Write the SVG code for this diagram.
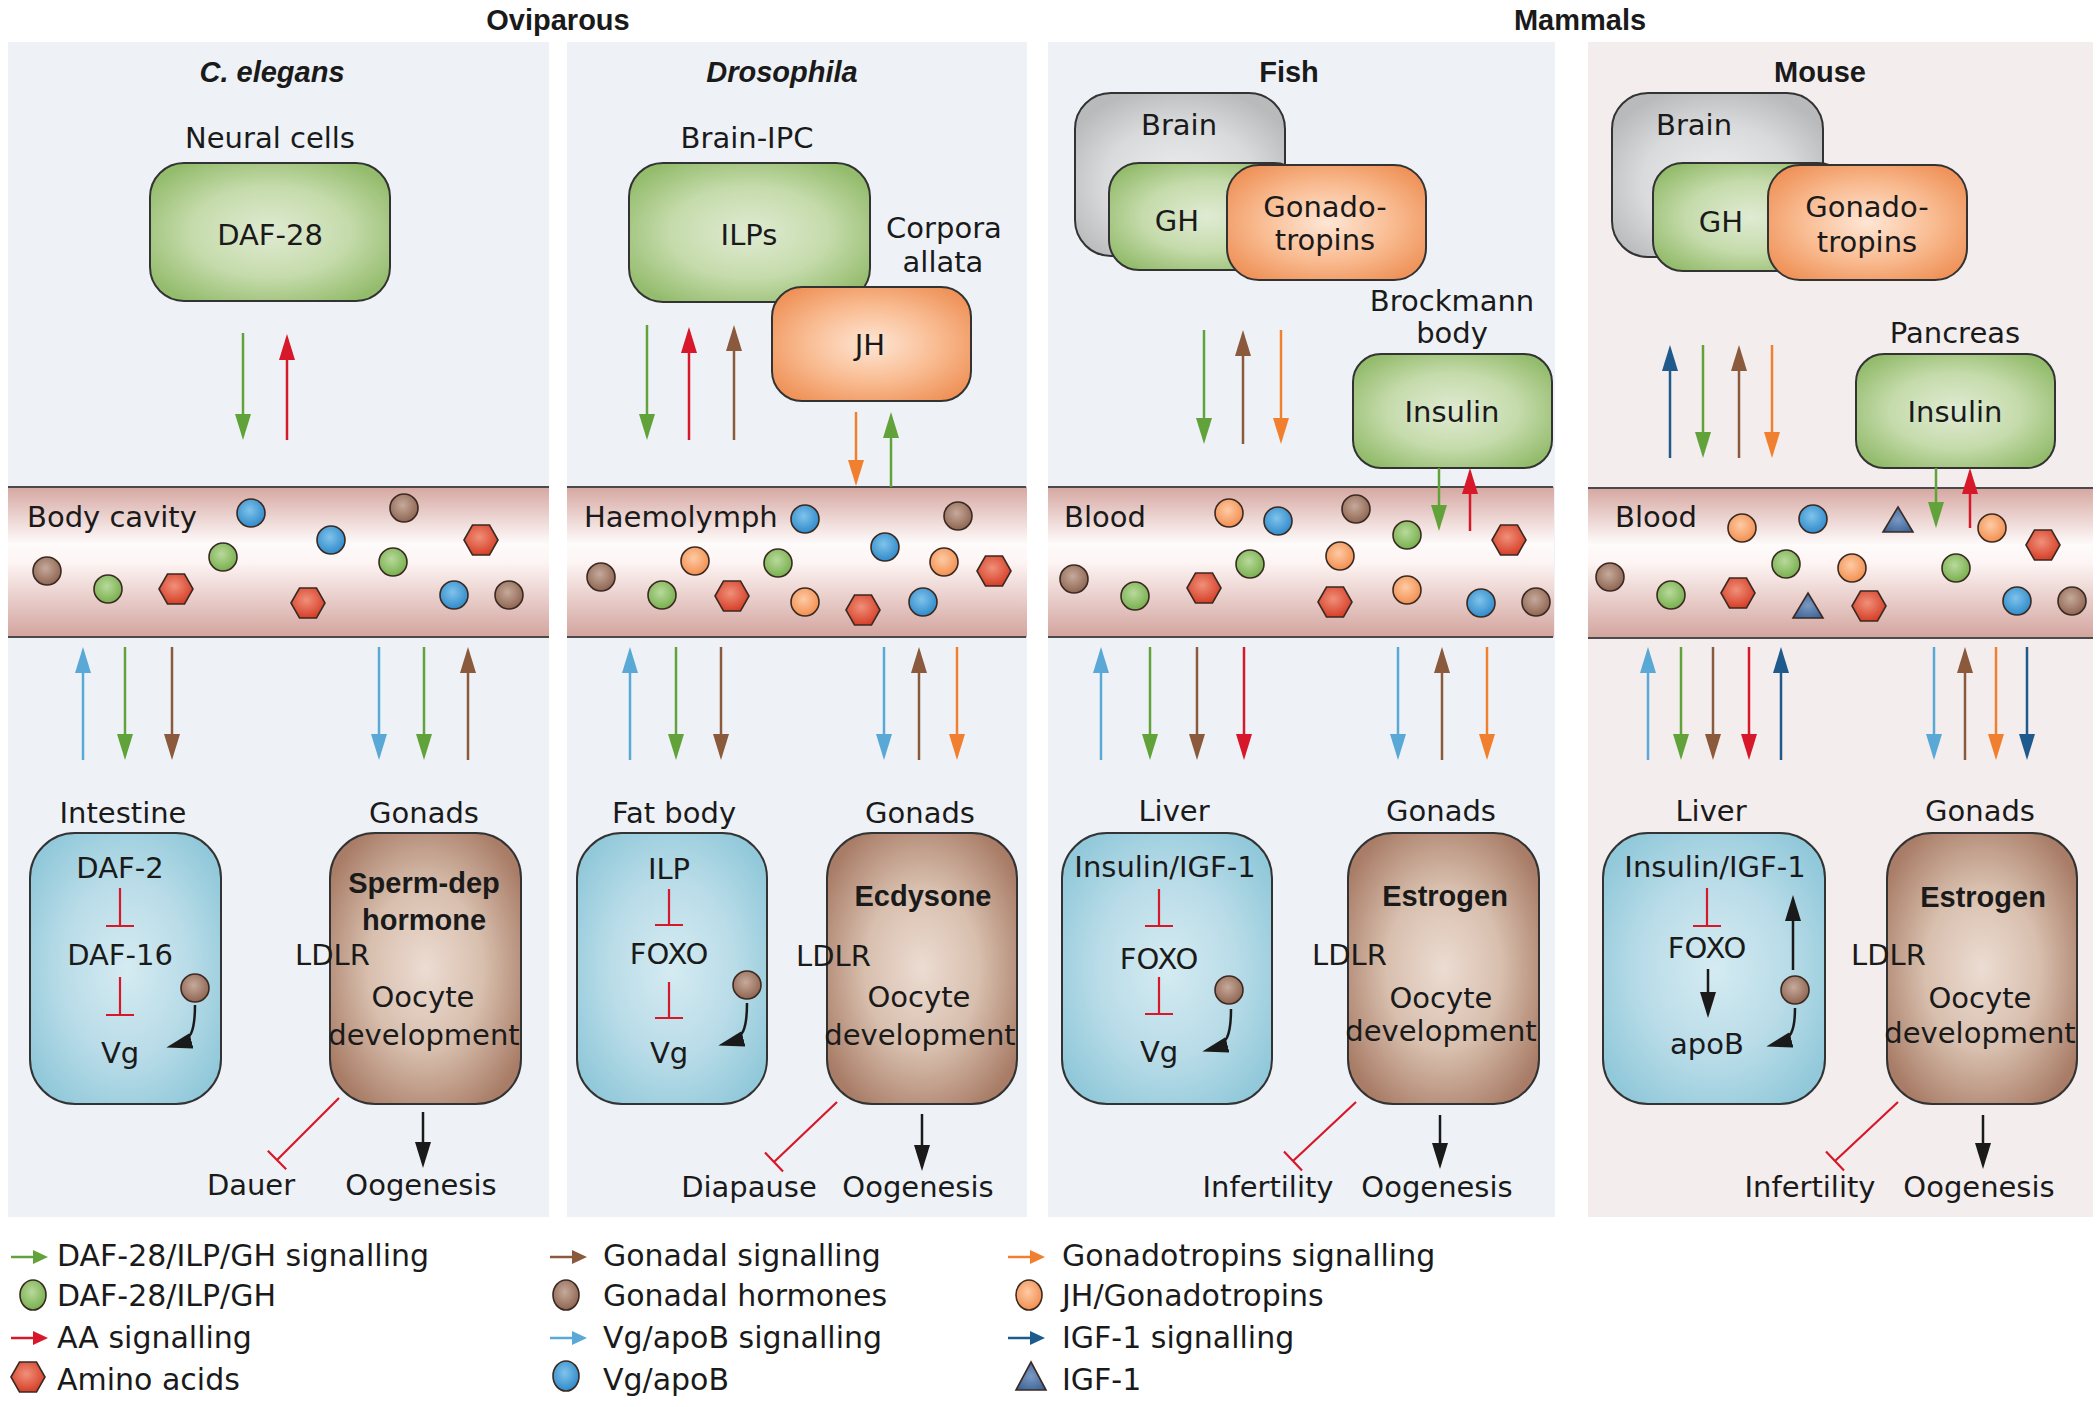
<svg xmlns="http://www.w3.org/2000/svg" width="2100" height="1407" viewBox="0 0 2100 1407">
<defs>
<style>
text{font-family:"DejaVu Sans","Liberation Sans",sans-serif;font-size:29px;fill:#1a1a1a}
.t{text-anchor:middle}
.b{font-family:"Liberation Sans",Arial,sans-serif;font-weight:bold;font-size:29px}
.h{font-family:"Liberation Sans",Arial,sans-serif;font-weight:bold;font-size:29px;text-anchor:middle}
.hi{font-style:italic}
.lg{font-size:30px}
.pnl{fill:#eef2f6}
.pnlm{fill:#f3eded}
.box{stroke:#333;stroke-width:2}
.bg{fill:url(#gGreen)}
.bo{fill:url(#gOrange)}
.bgy{fill:url(#gGrey)}
.bb{fill:url(#gBlue)}
.bbr{fill:url(#gBrown)}
.band{fill:url(#gBand)}
.bl{stroke:#4a4a4a;stroke-width:2}
.a{stroke-width:2.5;fill:none}
.gr{stroke:#62a23a;marker-end:url(#mGr)}
.rd{stroke:#d7182a;marker-end:url(#mRd)}
.br{stroke:#8b5a3c;marker-end:url(#mBr)}
.lb{stroke:#5aa8d6;marker-end:url(#mLb)}
.or{stroke:#f08030;marker-end:url(#mOr)}
.db{stroke:#1f5a8c;marker-end:url(#mDb)}
.bk{stroke:#1a1a1a;marker-end:url(#mBk)}
.inh{stroke:#d7182a;stroke-width:2.2;fill:none}
.p{stroke:#3a2a22;stroke-width:1.6}
.pg{fill:url(#pG)}
.pb{fill:url(#pB)}
.pbr{fill:url(#pBr)}
.po{fill:url(#pO)}
.ph{fill:url(#pH)}
.pt{fill:url(#pT)}
</style>
<linearGradient id="gBand" x1="0" y1="0" x2="0" y2="1">
<stop offset="0" stop-color="#d6a7a1"/>
<stop offset="0.38" stop-color="#fefbfb"/>
<stop offset="0.5" stop-color="#fdf5f4"/>
<stop offset="1" stop-color="#d3a49e"/>
</linearGradient>
<radialGradient id="gGreen" cx="0.5" cy="0.5" r="0.6">
<stop offset="0" stop-color="#e0ebd3"/><stop offset="0.55" stop-color="#c5dbab"/><stop offset="1" stop-color="#94bc6d"/>
</radialGradient>
<radialGradient id="gOrange" cx="0.5" cy="0.5" r="0.6">
<stop offset="0" stop-color="#fee6d5"/><stop offset="0.55" stop-color="#f9bc92"/><stop offset="1" stop-color="#ef935a"/>
</radialGradient>
<radialGradient id="gGrey" cx="0.5" cy="0.55" r="0.6">
<stop offset="0" stop-color="#eeeeef"/><stop offset="0.6" stop-color="#d9dadb"/><stop offset="1" stop-color="#b8babc"/>
</radialGradient>
<radialGradient id="gBlue" cx="0.5" cy="0.5" r="0.6">
<stop offset="0" stop-color="#d5ebf2"/><stop offset="0.55" stop-color="#b9dce8"/><stop offset="1" stop-color="#92c9da"/>
</radialGradient>
<radialGradient id="gBrown" cx="0.5" cy="0.5" r="0.6">
<stop offset="0" stop-color="#ecdcd2"/><stop offset="0.5" stop-color="#d8bfae"/><stop offset="1" stop-color="#a87c66"/>
</radialGradient>
<radialGradient id="pG" cx="0.45" cy="0.4" r="0.6"><stop offset="0" stop-color="#b8d99b"/><stop offset="1" stop-color="#78b04e"/></radialGradient>
<radialGradient id="pB" cx="0.45" cy="0.4" r="0.6"><stop offset="0" stop-color="#80c3eb"/><stop offset="1" stop-color="#308bcb"/></radialGradient>
<radialGradient id="pBr" cx="0.45" cy="0.4" r="0.6"><stop offset="0" stop-color="#c6aa9b"/><stop offset="1" stop-color="#8f6552"/></radialGradient>
<radialGradient id="pO" cx="0.45" cy="0.4" r="0.6"><stop offset="0" stop-color="#fdcba5"/><stop offset="1" stop-color="#f38f50"/></radialGradient>
<radialGradient id="pH" cx="0.45" cy="0.4" r="0.6"><stop offset="0" stop-color="#f0907a"/><stop offset="1" stop-color="#d63f28"/></radialGradient>
<radialGradient id="pT" cx="0.5" cy="0.5" r="0.6"><stop offset="0" stop-color="#7a99c4"/><stop offset="1" stop-color="#3d6396"/></radialGradient>
<polygon id="hex" points="-17,0 -8.5,-15 8.5,-15 17,0 8.5,15 -8.5,15"/>
<polygon id="tri" points="0,-13 15,12 -15,12"/>
<marker id="mGr" markerUnits="userSpaceOnUse" markerWidth="26" markerHeight="16" viewBox="0 0 26 16" refX="16" refY="8" orient="auto"><path d="M0,0 L26,8 L0,16 z" fill="#62a23a"/></marker>
<marker id="mRd" markerUnits="userSpaceOnUse" markerWidth="26" markerHeight="16" viewBox="0 0 26 16" refX="16" refY="8" orient="auto"><path d="M0,0 L26,8 L0,16 z" fill="#d7182a"/></marker>
<marker id="mBr" markerUnits="userSpaceOnUse" markerWidth="26" markerHeight="16" viewBox="0 0 26 16" refX="16" refY="8" orient="auto"><path d="M0,0 L26,8 L0,16 z" fill="#8b5a3c"/></marker>
<marker id="mLb" markerUnits="userSpaceOnUse" markerWidth="26" markerHeight="16" viewBox="0 0 26 16" refX="16" refY="8" orient="auto"><path d="M0,0 L26,8 L0,16 z" fill="#5aa8d6"/></marker>
<marker id="mOr" markerUnits="userSpaceOnUse" markerWidth="26" markerHeight="16" viewBox="0 0 26 16" refX="16" refY="8" orient="auto"><path d="M0,0 L26,8 L0,16 z" fill="#f08030"/></marker>
<marker id="mDb" markerUnits="userSpaceOnUse" markerWidth="26" markerHeight="16" viewBox="0 0 26 16" refX="16" refY="8" orient="auto"><path d="M0,0 L26,8 L0,16 z" fill="#1f5a8c"/></marker>
<marker id="mBk" markerUnits="userSpaceOnUse" markerWidth="26" markerHeight="16" viewBox="0 0 26 16" refX="16" refY="8" orient="auto"><path d="M0,0 L26,8 L0,16 z" fill="#1a1a1a"/></marker>
</defs>

<rect width="2100" height="1407" fill="#ffffff"/>

<!-- titles -->
<text class="h" x="558" y="30">Oviparous</text>
<text class="h" x="1580" y="30">Mammals</text>

<!-- panels -->
<g id="panel-celegans">
<rect class="pnl" x="8" y="42" width="541" height="1175"/>
<text class="h hi" x="272" y="82">C. elegans</text>
</g>
<g id="panel-drosophila">
<rect class="pnl" x="567" y="42" width="460" height="1175"/>
<text class="h hi" x="782" y="82">Drosophila</text>
</g>
<g id="panel-fish">
<rect class="pnl" x="1048" y="42" width="507" height="1175"/>
<text class="h" x="1289" y="82">Fish</text>
</g>
<g id="panel-mouse">
<rect class="pnlm" x="1588" y="42" width="505" height="1175"/>
<text class="h" x="1820" y="82">Mouse</text>
</g>

<!-- bands -->
<g id="body-cavity">
<rect class="band" x="8" y="487" width="541" height="150"/>
<path class="bl" d="M8,487H549M8,637H549"/>
<text x="27" y="527">Body cavity</text>
</g>
<g id="haemolymph">
<rect class="band" x="567" y="487" width="460" height="150"/>
<path class="bl" d="M567,487H1026M567,637H1026"/>
<text x="584" y="527">Haemolymph</text>
</g>
<g id="blood-fish">
<rect class="band" x="1048" y="487" width="506" height="150"/>
<path class="bl" d="M1048,487H1553M1048,637H1553"/>
<text x="1064" y="527">Blood</text>
</g>
<g id="blood-mouse">
<rect class="band" x="1588" y="488" width="505" height="150"/>
<path class="bl" d="M1588,488H2093M1588,638H2093"/>
<text x="1615" y="527">Blood</text>
</g>

<!-- particles -->
<g id="particles">
<circle class="p pb" cx="251" cy="513" r="14"/>
<circle class="p pbr" cx="404" cy="508" r="14"/>
<circle class="p pb" cx="331" cy="540" r="14"/>
<circle class="p pg" cx="223" cy="557" r="14"/>
<circle class="p pbr" cx="47" cy="571" r="14"/>
<circle class="p pg" cx="108" cy="589" r="14"/>
<use href="#hex" class="p ph" x="176" y="589"/>
<use href="#hex" class="p ph" x="308" y="603"/>
<circle class="p pg" cx="393" cy="562" r="14"/>
<use href="#hex" class="p ph" x="481" y="540"/>
<circle class="p pb" cx="454" cy="595" r="14"/>
<circle class="p pbr" cx="509" cy="595" r="14"/>

<circle class="p pb" cx="805" cy="519" r="14"/>
<circle class="p pbr" cx="958" cy="516" r="14"/>
<circle class="p pb" cx="885" cy="547" r="14"/>
<circle class="p po" cx="695" cy="561" r="14"/>
<circle class="p pg" cx="778" cy="563" r="14"/>
<circle class="p po" cx="944" cy="562" r="14"/>
<use href="#hex" class="p ph" x="994" y="571"/>
<circle class="p pbr" cx="601" cy="577" r="14"/>
<circle class="p pg" cx="662" cy="595" r="14"/>
<use href="#hex" class="p ph" x="732" y="596"/>
<circle class="p po" cx="805" cy="602" r="14"/>
<use href="#hex" class="p ph" x="863" y="610"/>
<circle class="p pb" cx="923" cy="602" r="14"/>

<circle class="p po" cx="1229" cy="513" r="14"/>
<circle class="p pb" cx="1278" cy="521" r="14"/>
<circle class="p pbr" cx="1356" cy="509" r="14"/>
<circle class="p pg" cx="1407" cy="535" r="14"/>
<use href="#hex" class="p ph" x="1509" y="540"/>
<circle class="p pg" cx="1250" cy="564" r="14"/>
<circle class="p po" cx="1340" cy="556" r="14"/>
<circle class="p pbr" cx="1074" cy="579" r="14"/>
<circle class="p pg" cx="1135" cy="596" r="14"/>
<use href="#hex" class="p ph" x="1204" y="588"/>
<use href="#hex" class="p ph" x="1335" y="602"/>
<circle class="p po" cx="1407" cy="590" r="14"/>
<circle class="p pb" cx="1481" cy="603" r="14"/>
<circle class="p pbr" cx="1536" cy="602" r="14"/>

<circle class="p po" cx="1742" cy="528" r="14"/>
<circle class="p pb" cx="1813" cy="519" r="14"/>
<use href="#tri" class="p pt" x="1898" y="520"/>
<circle class="p po" cx="1992" cy="528" r="14"/>
<use href="#hex" class="p ph" x="2043" y="545"/>
<circle class="p pg" cx="1786" cy="564" r="14"/>
<circle class="p po" cx="1852" cy="568" r="14"/>
<circle class="p pg" cx="1956" cy="568" r="14"/>
<circle class="p pbr" cx="1610" cy="577" r="14"/>
<circle class="p pg" cx="1671" cy="595" r="14"/>
<use href="#hex" class="p ph" x="1738" y="593"/>
<use href="#tri" class="p pt" x="1808" y="606"/>
<use href="#hex" class="p ph" x="1869" y="606"/>
<circle class="p pb" cx="2017" cy="601" r="14"/>
<circle class="p pbr" cx="2072" cy="601" r="14"/>
</g>

<!-- C. elegans nodes -->
<g id="neural-cells">
<text class="t" x="270" y="148">Neural cells</text>
<rect class="box bg" x="150" y="163" width="240" height="138" rx="34"/>
<text class="t" x="270" y="245">DAF-28</text>
</g>
<g id="intestine">
<text class="t" x="123" y="823">Intestine</text>
<rect class="box bb" x="30" y="833" width="191" height="271" rx="45"/>
<text class="t" x="120" y="878">DAF-2</text>
<text class="t" x="120" y="965">DAF-16</text>
<text class="t" x="120" y="1063">Vg</text>
<circle class="p pbr" cx="195" cy="988" r="14"/>
</g>
<g id="gonads-celegans">
<text class="t" x="424" y="823">Gonads</text>
<rect class="box bbr" x="330" y="833" width="191" height="271" rx="45"/>
<text class="b t" x="424" y="893">Sperm-dep</text>
<text class="b t" x="424" y="930">hormone</text>
<text x="295" y="965">LDLR</text>
<text class="t" x="423" y="1007">Oocyte</text>
<text class="t" x="424" y="1045">development</text>
</g>
<g id="dauer"><text class="t" x="251" y="1195">Dauer</text></g>
<g id="oogenesis-celegans"><text class="t" x="421" y="1195">Oogenesis</text></g>

<!-- Drosophila nodes -->
<g id="brain-ipc">
<text class="t" x="747" y="148">Brain-IPC</text>
<rect class="box bg" x="629" y="163" width="241" height="139" rx="34"/>
<text class="t" x="749" y="245">ILPs</text>
</g>
<g id="corpora-allata">
<text class="t" x="944" y="238">Corpora</text>
<text class="t" x="943" y="272">allata</text>
<rect class="box bo" x="772" y="287" width="199" height="114" rx="30"/>
<text class="t" x="870" y="355">JH</text>
</g>
<g id="fat-body">
<text class="t" x="674" y="823">Fat body</text>
<rect class="box bb" x="577" y="833" width="190" height="271" rx="45"/>
<text class="t" x="669" y="879">ILP</text>
<text class="t" x="669" y="964">FOXO</text>
<text class="t" x="669" y="1063">Vg</text>
<circle class="p pbr" cx="747" cy="985" r="14"/>
</g>
<g id="gonads-drosophila">
<text class="t" x="920" y="823">Gonads</text>
<rect class="box bbr" x="827" y="833" width="190" height="271" rx="45"/>
<text class="b t" x="923" y="906">Ecdysone</text>
<text x="796" y="966">LDLR</text>
<text class="t" x="919" y="1007">Oocyte</text>
<text class="t" x="920" y="1045">development</text>
</g>
<g id="diapause"><text class="t" x="749" y="1197">Diapause</text></g>
<g id="oogenesis-drosophila"><text class="t" x="918" y="1197">Oogenesis</text></g>

<!-- Fish nodes -->
<g id="brain-fish">
<rect class="box bgy" x="1075" y="93" width="210" height="163" rx="36"/>
<text class="t" x="1179" y="135">Brain</text>
<rect class="box bg" x="1109" y="163" width="195" height="107" rx="30"/>
<text class="t" x="1177" y="231">GH</text>
<rect class="box bo" x="1227" y="165" width="199" height="115" rx="32"/>
<text class="t" x="1325" y="217">Gonado-</text>
<text class="t" x="1325" y="250">tropins</text>
</g>
<g id="brockmann-body">
<text class="t" x="1452" y="311">Brockmann</text>
<text class="t" x="1452" y="343">body</text>
<rect class="box bg" x="1353" y="354" width="199" height="114" rx="28"/>
<text class="t" x="1452" y="422">Insulin</text>
</g>
<g id="liver-fish">
<text class="t" x="1174" y="821">Liver</text>
<rect class="box bb" x="1062" y="833" width="210" height="271" rx="45"/>
<text class="t" x="1165" y="877">Insulin/IGF-1</text>
<text class="t" x="1159" y="969">FOXO</text>
<text class="t" x="1159" y="1062">Vg</text>
<circle class="p pbr" cx="1229" cy="990" r="14"/>
</g>
<g id="gonads-fish">
<text class="t" x="1441" y="821">Gonads</text>
<rect class="box bbr" x="1348" y="833" width="191" height="271" rx="45"/>
<text class="b t" x="1445" y="906">Estrogen</text>
<text x="1312" y="965">LDLR</text>
<text class="t" x="1441" y="1008">Oocyte</text>
<text class="t" x="1441" y="1041">development</text>
</g>
<g id="infertility-fish"><text class="t" x="1268" y="1197">Infertility</text></g>
<g id="oogenesis-fish"><text class="t" x="1437" y="1197">Oogenesis</text></g>

<!-- Mouse nodes -->
<g id="brain-mouse">
<rect class="box bgy" x="1612" y="93" width="211" height="164" rx="36"/>
<text class="t" x="1694" y="135">Brain</text>
<rect class="box bg" x="1653" y="163" width="195" height="108" rx="30"/>
<text class="t" x="1721" y="232">GH</text>
<rect class="box bo" x="1768" y="165" width="199" height="115" rx="32"/>
<text class="t" x="1867" y="217">Gonado-</text>
<text class="t" x="1867" y="252">tropins</text>
</g>
<g id="pancreas">
<text class="t" x="1955" y="343">Pancreas</text>
<rect class="box bg" x="1856" y="354" width="199" height="114" rx="28"/>
<text class="t" x="1955" y="422">Insulin</text>
</g>
<g id="liver-mouse">
<text class="t" x="1711" y="821">Liver</text>
<rect class="box bb" x="1603" y="833" width="222" height="271" rx="45"/>
<text class="t" x="1715" y="877">Insulin/IGF-1</text>
<text class="t" x="1707" y="958">FOXO</text>
<text class="t" x="1707" y="1054">apoB</text>
<circle class="p pbr" cx="1795" cy="990" r="14"/>
</g>
<g id="gonads-mouse">
<text class="t" x="1980" y="821">Gonads</text>
<rect class="box bbr" x="1887" y="833" width="190" height="271" rx="45"/>
<text class="b t" x="1983" y="907">Estrogen</text>
<text x="1851" y="965">LDLR</text>
<text class="t" x="1980" y="1008">Oocyte</text>
<text class="t" x="1980" y="1043">development</text>
</g>
<g id="infertility-mouse"><text class="t" x="1810" y="1197">Infertility</text></g>
<g id="oogenesis-mouse"><text class="t" x="1979" y="1197">Oogenesis</text></g>

<!-- connectors -->
<g id="connectors">
<line class="a gr" x1="243" y1="333" x2="243" y2="430"/>
<line class="a rd" x1="287" y1="440" x2="287" y2="344"/>
<line class="a lb" x1="83" y1="760" x2="83" y2="657"/>
<line class="a gr" x1="125" y1="647" x2="125" y2="750"/>
<line class="a br" x1="172" y1="647" x2="172" y2="750"/>
<line class="a lb" x1="379" y1="647" x2="379" y2="750"/>
<line class="a gr" x1="424" y1="647" x2="424" y2="750"/>
<line class="a br" x1="468" y1="760" x2="468" y2="657"/>

<line class="a gr" x1="647" y1="325" x2="647" y2="430"/>
<line class="a rd" x1="689" y1="440" x2="689" y2="337"/>
<line class="a br" x1="734" y1="440" x2="734" y2="335"/>
<line class="a or" x1="856" y1="412" x2="856" y2="476"/>
<line class="a gr" x1="891" y1="487" x2="891" y2="422"/>
<line class="a lb" x1="630" y1="760" x2="630" y2="657"/>
<line class="a gr" x1="676" y1="647" x2="676" y2="750"/>
<line class="a br" x1="721" y1="647" x2="721" y2="750"/>
<line class="a lb" x1="884" y1="647" x2="884" y2="750"/>
<line class="a br" x1="919" y1="760" x2="919" y2="657"/>
<line class="a or" x1="957" y1="647" x2="957" y2="750"/>

<line class="a gr" x1="1204" y1="330" x2="1204" y2="434"/>
<line class="a br" x1="1243" y1="444" x2="1243" y2="340"/>
<line class="a or" x1="1281" y1="330" x2="1281" y2="434"/>
<line class="a gr" x1="1439" y1="468" x2="1439" y2="521"/>
<line class="a rd" x1="1470" y1="531" x2="1470" y2="478"/>
<line class="a lb" x1="1101" y1="760" x2="1101" y2="657"/>
<line class="a gr" x1="1150" y1="647" x2="1150" y2="750"/>
<line class="a br" x1="1197" y1="647" x2="1197" y2="750"/>
<line class="a rd" x1="1244" y1="647" x2="1244" y2="750"/>
<line class="a lb" x1="1398" y1="647" x2="1398" y2="750"/>
<line class="a br" x1="1442" y1="760" x2="1442" y2="657"/>
<line class="a or" x1="1487" y1="647" x2="1487" y2="750"/>

<line class="a db" x1="1670" y1="458" x2="1670" y2="355"/>
<line class="a gr" x1="1703" y1="345" x2="1703" y2="448"/>
<line class="a br" x1="1739" y1="458" x2="1739" y2="355"/>
<line class="a or" x1="1772" y1="345" x2="1772" y2="448"/>
<line class="a gr" x1="1936" y1="468" x2="1936" y2="518"/>
<line class="a rd" x1="1970" y1="528" x2="1970" y2="478"/>
<line class="a lb" x1="1648" y1="760" x2="1648" y2="657"/>
<line class="a gr" x1="1681" y1="647" x2="1681" y2="750"/>
<line class="a br" x1="1713" y1="647" x2="1713" y2="750"/>
<line class="a rd" x1="1749" y1="647" x2="1749" y2="750"/>
<line class="a db" x1="1781" y1="760" x2="1781" y2="657"/>
<line class="a lb" x1="1934" y1="647" x2="1934" y2="750"/>
<line class="a br" x1="1965" y1="760" x2="1965" y2="657"/>
<line class="a or" x1="1996" y1="647" x2="1996" y2="750"/>
<line class="a db" x1="2027" y1="647" x2="2027" y2="750"/>

<!-- black arrows -->
<line class="a bk" x1="423" y1="1112" x2="423" y2="1158"/>
<line class="a bk" x1="922" y1="1114" x2="922" y2="1161"/>
<line class="a bk" x1="1440" y1="1115" x2="1440" y2="1159"/>
<line class="a bk" x1="1983" y1="1115" x2="1983" y2="1159"/>
<line class="a bk" x1="1708" y1="969" x2="1708" y2="1008"/>
<line class="a bk" x1="1793" y1="970" x2="1793" y2="905"/>
<path class="a bk" d="M195,1005 C195,1031 191,1041 176,1045"/>
<path class="a bk" d="M747,1003 C747,1029 743,1039 728,1043"/>
<path class="a bk" d="M1231,1009 C1231,1035 1227,1045 1212,1049"/>
<path class="a bk" d="M1795,1008 C1795,1031 1791,1040 1776,1044"/>

<!-- inhibitions -->
<path class="inh" d="M120,888V926M106,926H134M120,977V1015M106,1015H134"/>
<path class="inh" d="M669,889V925M655,925H683M669,982V1018M655,1018H683"/>
<path class="inh" d="M1159,889V926M1145,926H1173M1159,977V1014M1145,1014H1173"/>
<path class="inh" d="M1707,888V926M1693,926H1721"/>
<path class="inh" d="M339,1098L277,1160M267.8,1150.8L286.2,1169.2"/>
<path class="inh" d="M837,1102L774,1162M765,1152.6L783,1171.4"/>
<path class="inh" d="M1356,1102L1293,1161M1284,1151.6L1302,1170.4"/>
<path class="inh" d="M1898,1102L1835,1161M1826,1151.6L1844,1170.4"/>
</g>

<!-- legend -->
<g id="legend">
<line x1="11" y1="1257" x2="36" y2="1257" stroke="#62a23a" stroke-width="2.5"/>
<polygon points="33,1250 48,1257 33,1264" fill="#62a23a"/>
<text class="lg" x="57" y="1266">DAF-28/ILP/GH signalling</text>
<ellipse class="p pg" cx="33" cy="1295" rx="13" ry="15"/>
<text class="lg" x="57" y="1306">DAF-28/ILP/GH</text>
<line x1="11" y1="1338" x2="36" y2="1338" stroke="#d7182a" stroke-width="2.5"/>
<polygon points="33,1331 48,1338 33,1345" fill="#d7182a"/>
<text class="lg" x="57" y="1348">AA signalling</text>
<use href="#hex" class="p ph" x="28" y="1377"/>
<text class="lg" x="57" y="1390">Amino acids</text>

<line x1="550" y1="1257" x2="575" y2="1257" stroke="#8b5a3c" stroke-width="2.5"/>
<polygon points="572,1250 587,1257 572,1264" fill="#8b5a3c"/>
<text class="lg" x="603" y="1266">Gonadal signalling</text>
<ellipse class="p pbr" cx="566" cy="1295" rx="13" ry="15"/>
<text class="lg" x="603" y="1306">Gonadal hormones</text>
<line x1="550" y1="1338" x2="575" y2="1338" stroke="#5aa8d6" stroke-width="2.5"/>
<polygon points="572,1331 587,1338 572,1345" fill="#5aa8d6"/>
<text class="lg" x="603" y="1348">Vg/apoB signalling</text>
<ellipse class="p pb" cx="566" cy="1376" rx="13" ry="15"/>
<text class="lg" x="603" y="1390">Vg/apoB</text>

<line x1="1008" y1="1257" x2="1033" y2="1257" stroke="#f08030" stroke-width="2.5"/>
<polygon points="1030,1250 1045,1257 1030,1264" fill="#f08030"/>
<text class="lg" x="1062" y="1266">Gonadotropins signalling</text>
<ellipse class="p po" cx="1029" cy="1295" rx="13" ry="15"/>
<text class="lg" x="1062" y="1306">JH/Gonadotropins</text>
<line x1="1008" y1="1338" x2="1033" y2="1338" stroke="#1f5a8c" stroke-width="2.5"/>
<polygon points="1030,1331 1045,1338 1030,1345" fill="#1f5a8c"/>
<text class="lg" x="1062" y="1348">IGF-1 signalling</text>
<polygon class="p pt" points="1031,1362 1046,1390 1016,1390"/>
<text class="lg" x="1062" y="1390">IGF-1</text>
</g>
</svg>
